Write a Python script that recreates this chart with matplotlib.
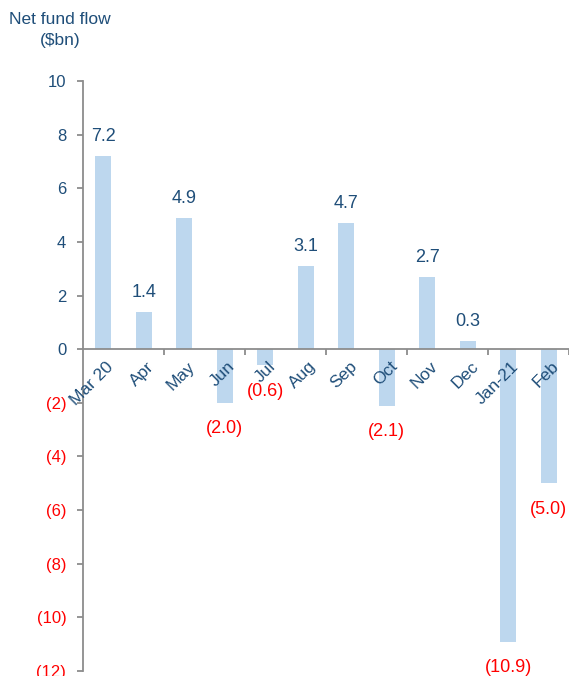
import matplotlib.pyplot as plt
import matplotlib.transforms as mtrans
from matplotlib.ticker import FuncFormatter

months = ["Mar 20", "Apr", "May", "Jun", "Jul", "Aug", "Sep", "Oct", "Nov", "Dec", "Jan-21", "Feb"]
flows = [7.2, 1.4, 4.9, -2.0, -0.6, 3.1, 4.7, -2.1, 2.7, 0.3, -10.9, -5.0]
yticks = [10, 8, 6, 4, 2, 0, -2, -4, -6, -8, -10, -12]

navy = "#1F4E79"
red = "#FF0000"
bar_col = "#BDD7EE"
grey = "#8C8C8C"

plt.rcParams['font.family'] = ['Liberation Sans', 'DejaVu Sans']

fig = plt.figure(figsize=(5.69, 6.76), dpi=100)
ax = fig.add_axes([83/569, 1 - 671/676, 1 - 83/569, (671 - 81)/676])
ax.set_axisbelow(False)

x = list(range(len(months)))
ax.bar(x, flows, width=0.4, color=bar_col, zorder=1)

ax.set_xlim(-0.5, 11.5)
ax.set_ylim(-12, 10)

for s in ["top", "right"]:
    ax.spines[s].set_visible(False)
ax.spines["left"].set_color(grey)
ax.spines["left"].set_linewidth(1.3)
ax.spines["bottom"].set_position(("data", 0))
ax.spines["bottom"].set_color(grey)
ax.spines["bottom"].set_linewidth(1.3)

# y axis: negatives in red brackets
ax.set_yticks(yticks)
ax.yaxis.set_major_formatter(FuncFormatter(lambda v, p: "(%d)" % abs(v) if v < 0 else "%d" % v))
ax.tick_params(axis="y", length=4, width=1.3, color=grey, pad=8, labelsize=12)
for lab, v in zip(ax.get_yticklabels(), yticks):
    lab.set_color(red if v < 0 else navy)

# x axis: month labels at centres, tick marks every other boundary
ax.set_xticks(x)
ax.set_xticklabels(months, rotation=45, ha="right", va="top", rotation_mode="anchor",
                   color=navy, fontsize=12.5)
ax.tick_params(axis="x", which="major", length=0, pad=7)
offset = mtrans.ScaledTranslation(2/72, 0, fig.dpi_scale_trans)
for lab in ax.get_xticklabels():
    lab.set_transform(lab.get_transform() + offset)
ax.set_xticks([1.5, 3.5, 5.5, 7.5, 9.5, 11.5], minor=True)
ax.tick_params(axis="x", which="minor", length=4, width=1.3, color=grey, direction="out")

# value labels
for xi, v in zip(x, flows):
    if v >= 0:
        ax.annotate("%.1f" % v, (xi, v), xytext=(0, 8), textcoords="offset points",
                    ha="center", va="bottom", color=navy, fontsize=13)
    else:
        ax.annotate("(%.1f)" % abs(v), (xi, v), xytext=(0, -12.5), textcoords="offset points",
                    ha="center", va="top", color=red, fontsize=13)

fig.text(60/569, 1 - 30/676, "Net fund flow\n($bn)", ha="center", va="center",
         color=navy, fontsize=12.5, linespacing=1.5)

fig.savefig("out.png", dpi=100)
